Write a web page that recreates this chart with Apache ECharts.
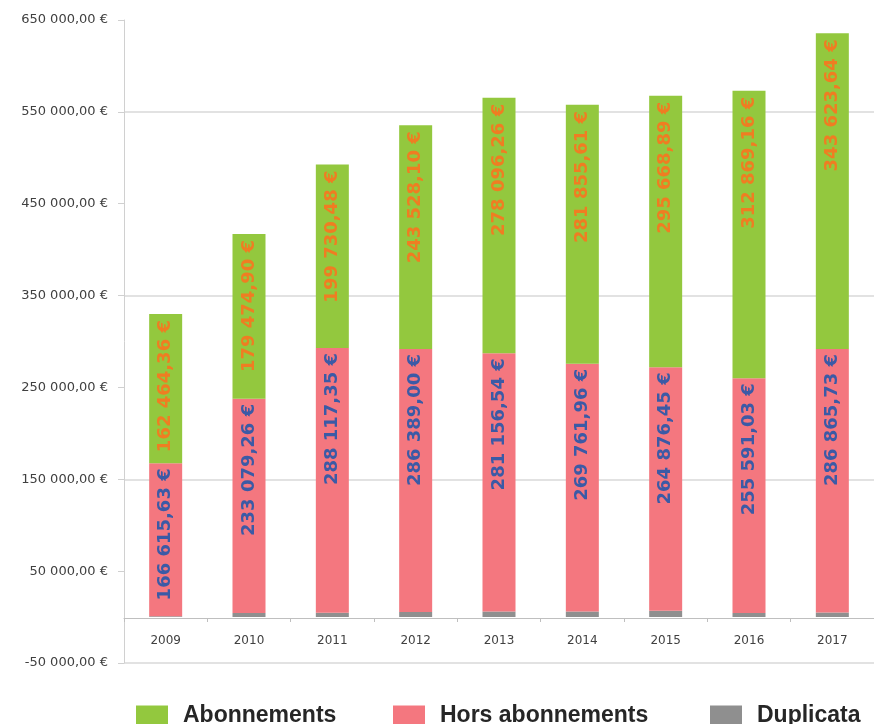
<!DOCTYPE html>
<html>
<head>
<meta charset="utf-8">
<script src="https://cdn.jsdelivr.net/npm/echarts@6/dist/echarts.min.js"></script>
<style>html,body{margin:0;padding:0;background:#fff}#c{width:874px;height:724px}</style>
</head>
<body>
<div id="c"></div>
<script>
var years = ['2009','2010','2011','2012','2013','2014','2015','2016','2017'];
var abonnements = [162464.36, 179474.90, 199730.48, 243528.10, 278096.26, 281855.61, 295668.89, 312869.16, 343623.64];
var horsAbonnements = [166615.63, 233079.26, 288117.35, 286389.00, 281156.54, 269761.96, 264876.45, 255591.03, 286865.73];
var duplicata = [800, 4500, 4800, 5500, 6000, 6000, 7000, 4500, 5000];
var yTickValues = [-50000, 50000, 150000, 250000, 350000, 450000, 550000, 650000];

function fmtEuro(v, dec) {
  var neg = v < 0; v = Math.abs(v);
  var s = v.toFixed(dec);
  var parts = s.split('.');
  var ip = parts[0].replace(/\B(?=(\d{3})+(?!\d))/g, ' ');
  return (neg ? '-' : '') + ip + (dec ? ',' + parts[1] : '') + ' €';
}

var chart = echarts.init(document.getElementById('c'));
var legendText = {fontFamily: 'Liberation Sans', fontWeight: 'bold', fontSize: 23, color: '#262626', padding: [0, 0, 0, 10]};
function legendAt(name, left) {
  return {data: [name], left: left, top: 699, itemWidth: 32, itemHeight: 20, icon: 'rect', textStyle: legendText, selectedMode: false};
}
chart.setOption({
  animation: false,
  grid: {left: 124, right: -19, top: 20, bottom: 61},
  legend: [legendAt('Abonnements', 131), legendAt('Hors abonnements', 388), legendAt('Duplicata', 705)],
  xAxis: {
    type: 'category', data: years, offset: -45,
    axisLine: {onZero: false, lineStyle: {color: '#bfbfbf', width: 1}},
    axisTick: {show: true, length: 4, lineStyle: {color: '#bfbfbf'}},
    axisLabel: {color: '#404040', fontFamily: 'DejaVu Sans', fontSize: 12, margin: 17}
  },
  yAxis: {
    type: 'value', min: -50000, max: 650000, interval: 50000,
    axisLine: {show: true, lineStyle: {color: '#d0d0d0'}},
    axisTick: {show: true, length: 6, customValues: yTickValues, lineStyle: {color: '#d0d0d0'}},
    axisLabel: {customValues: yTickValues, color: '#404040', fontFamily: 'DejaVu Sans', fontSize: 13, margin: 16,
      formatter: function (v) { return fmtEuro(v, 2); }},
    splitLine: {show: true, lineStyle: {color: ['#d9d9d9', 'rgba(0,0,0,0)'], width: 1.5}}
  },
  series: [
    {name: 'Duplicata', type: 'bar', stack: 't', data: duplicata, barWidth: 33, itemStyle: {color: '#8f8f8f'}},
    {name: 'Hors abonnements', type: 'bar', stack: 't', data: horsAbonnements, barWidth: 33, itemStyle: {color: '#f4777f'},
      label: {show: true, position: 'insideTop', rotate: 90, align: 'right', verticalAlign: 'middle', distance: 5,
        color: '#3b5aa6', fontFamily: 'DejaVu Sans', fontWeight: 'bold', fontSize: 18,
        formatter: function (p) { return fmtEuro(p.value, 2); }}},
    {name: 'Abonnements', type: 'bar', stack: 't', data: abonnements, barWidth: 33, itemStyle: {color: '#93c83e'},
      label: {show: true, position: 'insideTop', rotate: 90, align: 'right', verticalAlign: 'middle', distance: 6,
        color: '#ef7d22', fontFamily: 'DejaVu Sans', fontWeight: 'bold', fontSize: 18,
        formatter: function (p) { return fmtEuro(p.value, 2); }}}
  ]
});
</script>
</body>
</html>
